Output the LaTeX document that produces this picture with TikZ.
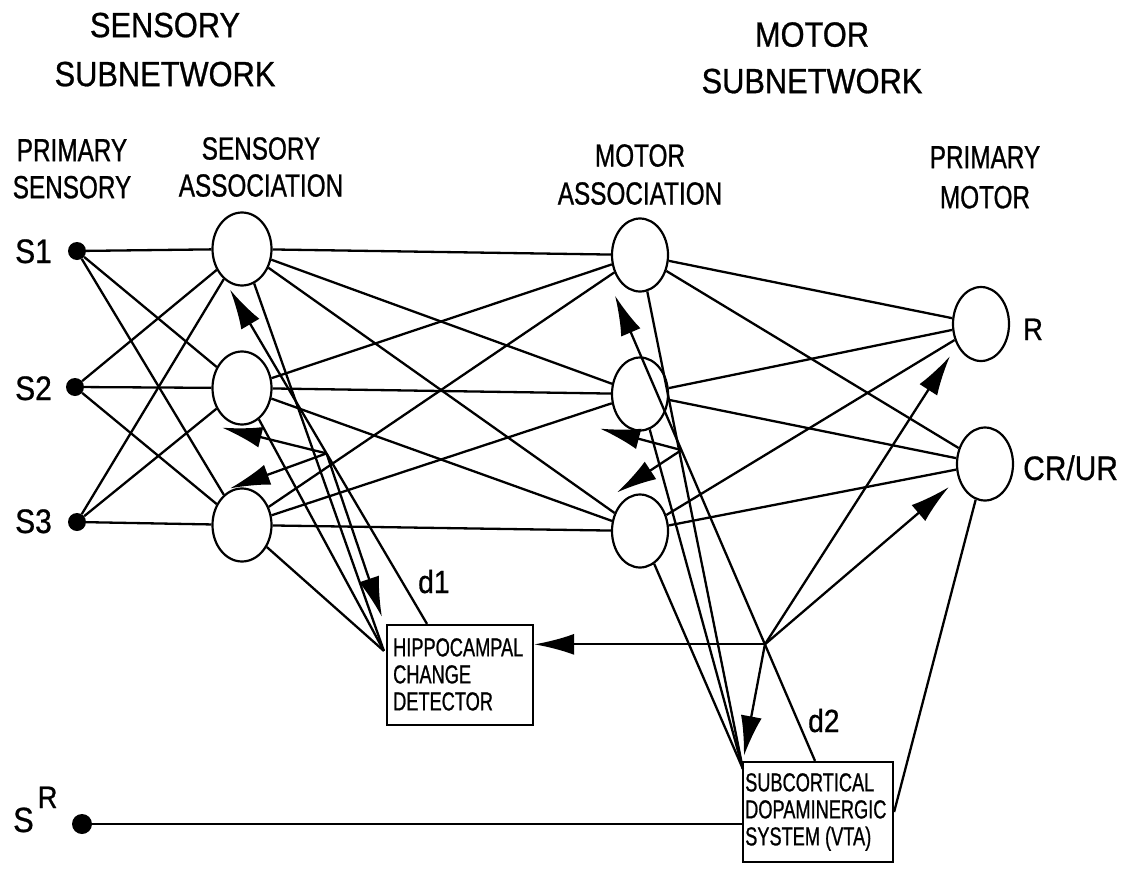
\documentclass[tikz,border=0pt]{standalone}
\usepackage{fontspec}
\newfontfamily\fhdr{Liberation Sans}[FakeStretch=0.88,FakeBold=0.8]
\newfontfamily\fsubh{Liberation Sans}[FakeStretch=0.76,FakeBold=0.8]
\newfontfamily\boxfont{Liberation Sans}[FakeStretch=0.7,FakeBold=0.8]
\usetikzlibrary{arrows.meta,calc,shapes.geometric}
\begin{document}
\begin{tikzpicture}[x=1pt,y=-1pt,
  ln/.style={line width=2.3pt},
  arr/.style={line width=2.3pt,-{Latex[length=40pt,width=21pt]}},
  cell/.style={ellipse,draw,line width=2.2pt,minimum width=59pt,minimum height=73pt,inner sep=0pt},
  dot/.style={circle,fill=black,minimum size=18pt,inner sep=0pt},
  unit/.style={draw,line width=2.2pt,minimum width=146pt,minimum height=100pt,inner sep=0pt},
  hdr/.style={font=\fhdr\fontsize{35}{49}\selectfont,align=center,anchor=north,inner sep=0pt},
  subh/.style={font=\fsubh\fontsize{32}{37}\selectfont,align=center,anchor=north,inner sep=0pt},
  lbl/.style={font=\fhdr\fontsize{34}{34}\selectfont,inner sep=0pt},
  btxt/.style={font=\boxfont\fontsize{26}{27}\selectfont,align=left,anchor=north west,inner sep=0pt}]
\fill[white] (0,0) rectangle (1128,881);
\useasboundingbox (0,0) rectangle (1128,881);
% headers
\node[hdr] (hs) at (165,12.5) {SENSORY\\SUBNETWORK};
\node[hdr,font=\fhdr\fontsize{35}{46.5}\selectfont] (hm) at (812,22) {MOTOR\\SUBNETWORK};
\node[subh] (lps) at (72,139) {PRIMARY\\SENSORY};
\node[subh] (lsa) at (261,137) {SENSORY\\ASSOCIATION};
\node[subh,font=\fsubh\fontsize{32}{38}\selectfont] (lma) at (640,144) {MOTOR\\ASSOCIATION};
\node[subh,font=\fsubh\fontsize{32}{40}\selectfont] (lpm) at (985,146) {PRIMARY\\MOTOR};
% units
\node[dot] (s1) at (77,251) {};
\node[dot] (s2) at (75,387) {};
\node[dot] (s3) at (77,522) {};
\node[dot,minimum size=20pt] (sr) at (82,824) {};
\node[cell] (sa1) at (242,249) {};
\node[cell] (sa2) at (242,388) {};
\node[cell] (sa3) at (242,525) {};
\node[cell,minimum width=56pt] (ma1) at (640,255) {};
\node[cell,minimum width=56pt] (ma2) at (640,394) {};
\node[cell,minimum width=56pt] (ma3) at (640,531) {};
\node[cell,minimum width=56pt,minimum height=74pt] (r) at (981,324) {};
\node[cell,minimum width=56pt] (cr) at (985,464) {};
\node[unit] (hip) at (460,675) {};
\node[unit,minimum width=150pt] (vta) at (818,812) {};
% labels
\node[lbl,anchor=base east] (ls1) at (52,263) {S1};
\node[lbl,anchor=base east] (ls2) at (52,400) {S2};
\node[lbl,anchor=base east] (ls3) at (52,533) {S3};
\node[lbl,anchor=base west,font=\fhdr\fontsize{35}{35}\selectfont] (lsr) at (13,832) {S\hspace{4pt}\raisebox{24pt}{\fontsize{31}{31}\selectfont R}};
\node[lbl,anchor=base west,font=\fhdr\fontsize{31}{31}\selectfont] (lr) at (1023,340) {R};
\node[lbl,anchor=base west] (lcr) at (1023,480) {CR/UR};
\node[lbl,anchor=base west,font=\fhdr\fontsize{32}{32}\selectfont] (ld1) at (418,593) {d1};
\node[lbl,anchor=base west,font=\fhdr\fontsize{32}{32}\selectfont] (ld2) at (808,732) {d2};
\node[btxt] (thip) at (393,638) {HIPPOCAMPAL\\CHANGE\\DETECTOR};
\node[btxt] (tvta) at (745,773) {SUBCORTICAL\\DOPAMINERGIC\\SYSTEM (VTA)};
% feedforward connections
\foreach \a in {s1,s2,s3} \foreach \b in {sa1,sa2,sa3} \draw[ln] (\a) -- (\b);
\foreach \a in {sa1,sa2,sa3} \foreach \b in {ma1,ma2,ma3} \draw[ln] (\a) -- (\b);
\foreach \a in {ma1,ma2,ma3} \foreach \b in {r,cr} \draw[ln] (\a) -- (\b);
\coordinate (hin) at ($(hip.north west)+(-2,27)$);
\foreach \a in {sa1,sa2,sa3} \draw[ln] (\a) -- (hin);
\coordinate (vin) at ($(vta.north west)+(1,8)$);
\foreach \a in {ma1,ma2,ma3} \draw[ln] (\a) -- (vin);
\draw[ln] (cr) -- (vta.east);
\draw[ln] (sr) -- (sr -| vta.west);
% d1
\coordinate (d1s) at ($(hip.north)+(-33,0)$);
\coordinate (t1) at ($(sa1.south)+(-12,3)$);
\draw[arr] (d1s) -- (t1);
\coordinate (b1) at ($(d1s)!0.51!(t1)$);
\draw[arr] (b1) -- ($(sa2.south)+(-20,2)$);
\draw[arr] (b1) -- ($(sa3.north)+(-12,1)$);
\draw[arr] (b1) -- ($(hip.north west)+(-4,-7)$);
% d2
\coordinate (d2s) at ($(vta.north)+(-3,0)$);
\coordinate (t2) at ($(ma1.south)+(-25,3)$);
\draw[arr] (d2s) -- (t2);
\coordinate (j2) at ($(d2s)!0.2505!(t2)$);
\coordinate (b2) at ($(d2s)!0.668!(t2)$);
\draw[arr] (b2) -- ($(ma2.south)+(-40,-3)$);
\draw[arr] (b2) -- ($(ma3.north)+(-23,-1)$);
\draw[arr] (j2) -- (j2 -| hip.east);
\draw[arr] (j2) -- ($(r.south)+(-31,-6)$);
\draw[arr] (j2) -- ($(cr.west)+(-7,23)$);
\draw[arr] (j2) -- ($(vta.north west)+(2,-5)$);
\end{tikzpicture}
\end{document}
